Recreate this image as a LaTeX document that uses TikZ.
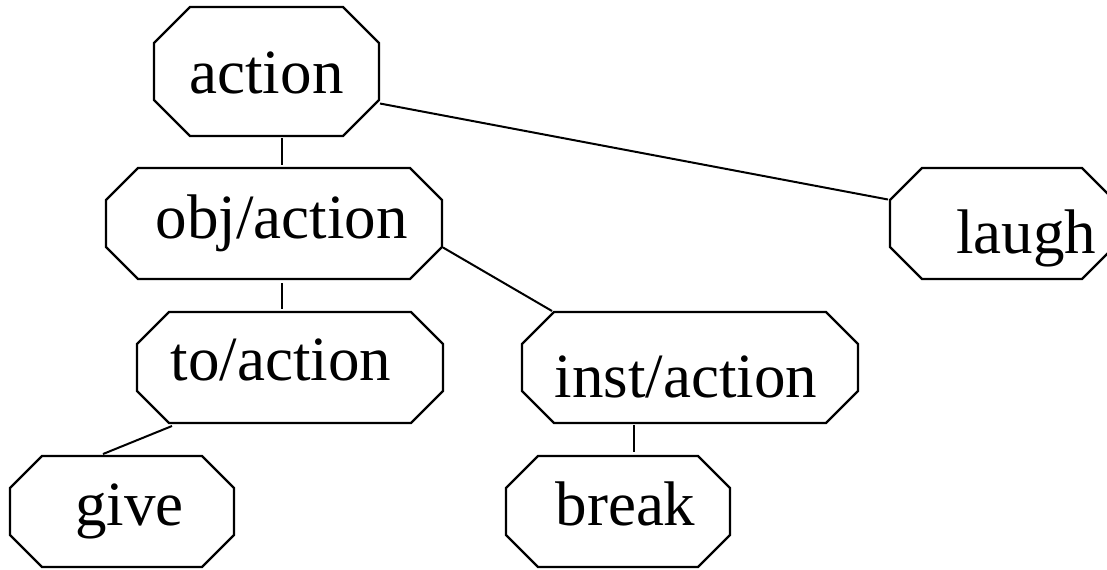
\documentclass[tikz,border=0pt]{standalone}
\usepackage{fontspec}
\setmainfont{Liberation Serif}
\usetikzlibrary{calc}

% octagonal frame round a named node: #1 node, #2 size of the cut corners
\newcommand\cutframe[2]{%
  \draw[line width=1.2pt] ([xshift=#2]#1.north west) -- ([xshift=-#2]#1.north east)
    -- ([yshift=-#2]#1.north east) -- ([yshift=#2]#1.south east)
    -- ([xshift=-#2]#1.south east) -- ([xshift=#2]#1.south west)
    -- ([yshift=#2]#1.south west) -- ([yshift=-#2]#1.north west) -- cycle;}

\begin{document}
\begin{tikzpicture}[x=0.5pt,y=-0.5pt,
  line width=1pt,
  frame node/.style={rectangle,inner sep=0pt,text depth=0pt,
    font=\fontsize{31.5}{36}\selectfont,
    minimum width=#1*0.5pt,minimum height=54.5pt}]

  \clip (0,0) rectangle (1107,569);

  \node[frame node=223,minimum height=63.5pt,text height=21.5pt] (action) at (266.5,71.5){action};
  \node[frame node=334,text height=14.5pt] (obj) at (274,223.5){\hspace*{7.5pt}obj/action};
  \node[frame node=222,text height=29.5pt] (laugh) at (1002,223.5){\hspace*{24pt}laugh};
  \node[frame node=304,text height=12.5pt] (to) at (290,367.5){to/action\hspace*{9pt}};
  \node[frame node=334,text height=29.5pt] (inst) at (690,367.5){inst/action\hspace*{4pt}};
  \node[frame node=222,text height=13.5pt] (give) at (122,511.5){\hspace*{7.5pt}give};
  \node[frame node=222,text height=13.5pt] (break) at (618,511.5){\hspace*{7.5pt}break};

  \cutframe{action}{18pt}
  \foreach \n in {obj,laugh,to,inst,give,break}
    \cutframe{\n}{16pt};

  \path
    ($(action.south)+(15.5,2)$) edge ($(obj.north)+(8,-3)$)
    ($(action.east)+(1,32)$) edge ($(laugh.west)+(-2,-24)$)
    ($(obj.south)+(8,4)$) edge ($(to.north)+(-8,-3)$)
    ($(obj.east)+(1,24)$) edge ($(inst.north west)+(30,-1)$)
    ($(to.south)+(-118,3)$) edge ($(give.north)+(-19,-2)$)
    ($(inst.south)+(-56,2)$) edge ($(break.north)+(16,-4)$);
\end{tikzpicture}
\end{document}
